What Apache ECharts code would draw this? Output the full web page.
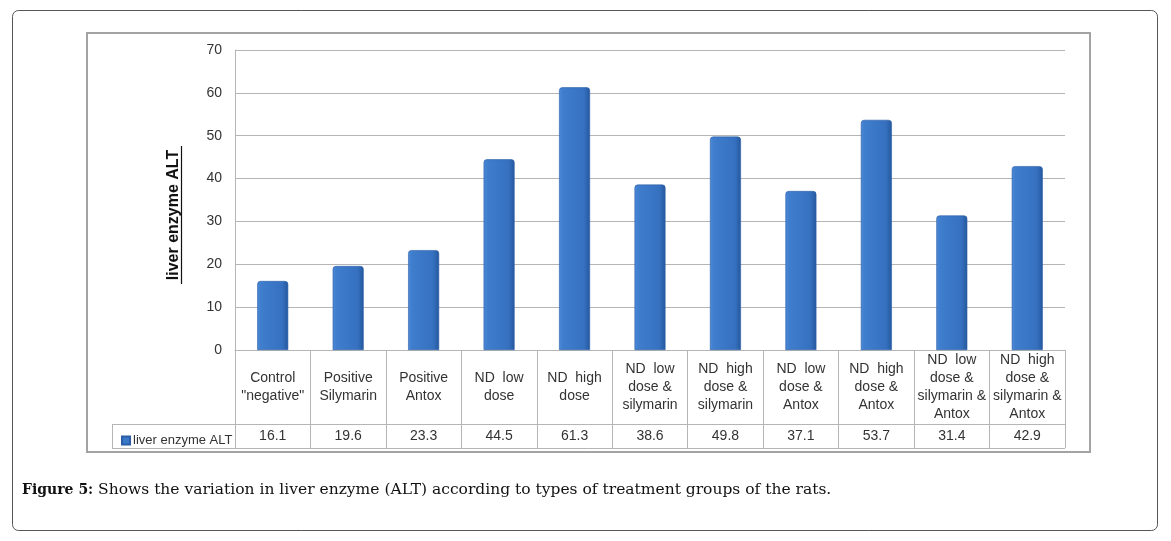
<!DOCTYPE html>
<html>
<head>
<meta charset="utf-8">
<script src="https://cdn.jsdelivr.net/npm/echarts@6/dist/echarts.min.js"></script>
<style>
html,body{margin:0;padding:0;background:#fff;}
#c{width:1171px;height:541px;}
</style>
</head>
<body>
<div id="c"></div>
<script>
const categories = ['Control\n"negative"', 'Positive\nSilymarin', 'Positive\nAntox', 'ND  low\ndose', 'ND  high\ndose', 'ND  low\ndose &\nsilymarin', 'ND  high\ndose &\nsilymarin', 'ND  low\ndose &\nAntox', 'ND  high\ndose &\nAntox', 'ND  low\ndose &\nsilymarin &\nAntox', 'ND  high\ndose &\nsilymarin &\nAntox'];
const values = [16.1, 19.6, 23.3, 44.5, 61.3, 38.6, 49.8, 37.1, 53.7, 31.4, 42.9];
const seriesName = 'liver enzyme ALT';
const yMin = 0, yMax = 70, yStep = 10;

const chart = echarts.init(document.getElementById('c'), null, {renderer: 'canvas'});
const FONT = 'Liberation Sans';
const SERIF = 'DejaVu Serif';
const GL = 235, GR = 106, GT = 50, GB = 191;
const W = 1171, H = 541;
const plotBottom = H - GB, plotRight = W - GR;
const row1 = plotBottom + 74, row2 = plotBottom + 98, legendLeft = 112;
const lineCol = '#b5b5b5';

const barColor = new echarts.graphic.LinearGradient(0, 0, 1, 0, [
  {offset: 0, color: '#4d8ad8'},
  {offset: 0.12, color: '#3f7dcd'},
  {offset: 0.8, color: '#3671c0'},
  {offset: 1, color: '#25589e'}
]);

chart.setOption({
  animation: false,
  grid: {left: GL, right: GR, top: GT, bottom: GB, containLabel: false},
  legend: {
    data: [{name: seriesName, itemStyle: {color: '#3a78c8'}}],
    left: legendLeft + 4, top: row1 + 5, icon: 'rect', itemWidth: 8, itemHeight: 8, itemGap: 4,
    textStyle: {fontFamily: FONT, fontSize: 13, color: '#333', padding: [0, 0, 0, -2]}
  },
  xAxis: [{
    type: 'category', data: categories, position: 'bottom',
    axisLine: {show: true, lineStyle: {color: lineCol, width: 1}},
    axisTick: {show: true, interval: 0, length: 98, lineStyle: {color: lineCol}},
    axisLabel: {interval: 0, margin: 37, verticalAlign: 'middle', fontFamily: FONT, fontSize: 14, color: '#333', lineHeight: 18, align: 'center'},
    splitLine: {show: false}
  }, {
    type: 'category', data: values.map(v => v.toFixed(1)), position: 'bottom',
    axisLine: {show: false}, axisTick: {show: false},
    axisLabel: {interval: 0, margin: 86, verticalAlign: 'middle', fontFamily: FONT, fontSize: 14, color: '#333'}
  }],
  yAxis: {
    type: 'value', min: yMin, max: yMax, interval: yStep,
    axisLine: {show: true, lineStyle: {color: lineCol}},
    axisTick: {show: false},
    axisLabel: {margin: 13, fontFamily: FONT, fontSize: 14, color: '#333'},
    splitLine: {show: true, lineStyle: {color: lineCol, width: 1}}
  },
  series: [{
    name: seriesName, type: 'bar', data: values, barWidth: 31, xAxisIndex: 0,
    itemStyle: {color: barColor, borderColor: '#2b5ea6', borderWidth: 0.6, borderRadius: [3, 3, 0, 0]}
  }],
  graphic: [
    {type: 'rect', shape: {x: 12.5, y: 10.5, width: 1145, height: 520, r: 6}, style: {fill: 'none', stroke: '#555', lineWidth: 1}, silent: true},
    {type: 'rect', shape: {x: 87, y: 33, width: 1003, height: 419}, style: {fill: 'none', stroke: '#a3a3a3', lineWidth: 2}, silent: true},
    {type: 'line', shape: {x1: legendLeft, y1: row1 + 0.5, x2: plotRight, y2: row1 + 0.5}, style: {stroke: lineCol, lineWidth: 1}},
    {type: 'line', shape: {x1: legendLeft, y1: row2 + 0.5, x2: plotRight, y2: row2 + 0.5}, style: {stroke: lineCol, lineWidth: 1}},
    {type: 'line', shape: {x1: legendLeft + 0.5, y1: row1, x2: legendLeft + 0.5, y2: row2}, style: {stroke: lineCol, lineWidth: 1}},
    {type: 'text', x: 173.5, y: 215, rotation: Math.PI / 2, style: {text: 'liver enzyme ALT', fontFamily: FONT, fontWeight: 'bold', fontSize: 16, fill: '#111', align: 'center', verticalAlign: 'middle'}},
    {type: 'line', shape: {x1: 181.5, y1: 146, x2: 181.5, y2: 284}, style: {stroke: '#111', lineWidth: 1.2}},
    {type: 'text', x: 22, y: 490, style: {
      text: '{a|Figure 5:} {b|Shows the variation in liver enzyme (ALT) according to types of treatment groups of the rats.}',
      verticalAlign: 'middle',
      rich: {
        a: {fontFamily: SERIF, fontWeight: 'bold', fontSize: 14, fill: '#111'},
        b: {fontFamily: SERIF, fontSize: 15.5, fill: '#111'}
      },
      fontFamily: SERIF, fontSize: 15
    }}
  ]
});
</script>
</body>
</html>
